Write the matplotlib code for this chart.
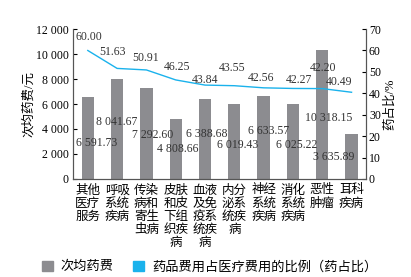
import numpy as np
import matplotlib
matplotlib.use("Agg")
import matplotlib.pyplot as plt
from matplotlib.patches import Patch

plt.rcParams['font.family'] = ['Liberation Serif', 'Noto Sans CJK SC', 'DejaVu Sans']

# données
categories = ["其他\n医疗\n服务", "呼吸\n系统\n疾病", "传染\n病和\n寄生\n虫病", "皮肤\n和皮\n下组\n织疾\n病",
              "血液\n及免\n疫系\n统疾\n病", "内分\n泌系\n统疾\n病", "神经\n系统\n疾病", "消化\n系统\n疾病",
              "恶性\n肿瘤", "耳科\n疾病"]
cout_moyen = [6591.73, 8041.67, 7292.60, 4808.66, 6388.68, 6019.43, 6633.57, 6025.22, 10318.15, 3635.89]
ratio = [60.00, 51.63, 50.91, 46.25, 43.84, 43.55, 42.56, 42.27, 42.20, 40.49]

# décalages des étiquettes (pixels)
bar_lab_off = [(9, -46), (0, -43), (6, -47), (2, -30), (2, -35), (3, -41), (5, -35), (4, -41), (6, -68), (-18, -23)]
line_lab_off = [(1, 13), (-5, 16), (-1, 12), (1, 13), (0, 5), (-2, 18), (-3, 10), (6, 8), (1, 21), (-12, 10)]

gris = "#8c8c90"
bleu = "#1ab2ec"

def fmt(v):
    s = f"{v:,.2f}"
    return s.replace(",", " ")

fig = plt.figure(figsize=(4.11, 2.77), dpi=100)
ax = fig.add_axes([0.178, 0.354, 0.713, 0.541])
ax2 = ax.twinx()

x = np.arange(len(categories))
ax.bar(x, cout_moyen, width=0.42, color=gris, zorder=2)
ax.set_ylim(0, 12000)
ax.set_xlim(-0.5, len(categories) - 0.5)
ax.set_yticks(np.arange(0, 12001, 2000))
ax.set_yticklabels([fmt(v)[:-3] for v in np.arange(0, 12001, 2000)])
ax.set_xticks(x)
ax.set_xticklabels(categories, fontsize=9, linespacing=1.12, va="top")
ax.tick_params(axis="x", length=0, pad=4)
ax.tick_params(axis="y", direction="in", length=3, labelsize=8.5, pad=3)
ax.set_ylabel("次均药费/元", fontsize=9, labelpad=1)

ax2.plot(x, ratio, color=bleu, lw=1.0, zorder=3)
ax2.set_ylim(0, 70)
ax2.set_yticks(np.arange(0, 71, 10))
ax2.tick_params(axis="y", direction="in", length=3, labelsize=8.5, pad=2)
ax2.set_ylabel("药占比/%", fontsize=9, labelpad=2)

for a in (ax, ax2):
    a.spines["top"].set_visible(False)
    a.spines["left"].set_color("#555555")
    a.spines["right"].set_color("#555555")
    a.spines["bottom"].set_color("#555555")

for i, v in enumerate(cout_moyen):
    ax.annotate(fmt(v), (x[i], v), xytext=bar_lab_off[i], textcoords="offset pixels",
                ha="center", va="center", fontsize=8.5, color="#333333", zorder=5)
for i, v in enumerate(ratio):
    ax2.annotate(f"{v:.2f}", (x[i], v), xytext=line_lab_off[i], textcoords="offset pixels",
                 ha="center", va="center", fontsize=8.5, color="#333333", zorder=5)

handles = [Patch(color=gris, label="次均药费"), Patch(color=bleu, label="药品费用占医疗费用的比例（药占比）")]
fig.legend(handles=handles, loc="lower center", bbox_to_anchor=(0.51, -0.03), ncol=2, frameon=False,
           fontsize=9.5, handlelength=0.8, handleheight=0.8, columnspacing=1.5, handletextpad=0.6)

fig.savefig("out.png", dpi=100)
